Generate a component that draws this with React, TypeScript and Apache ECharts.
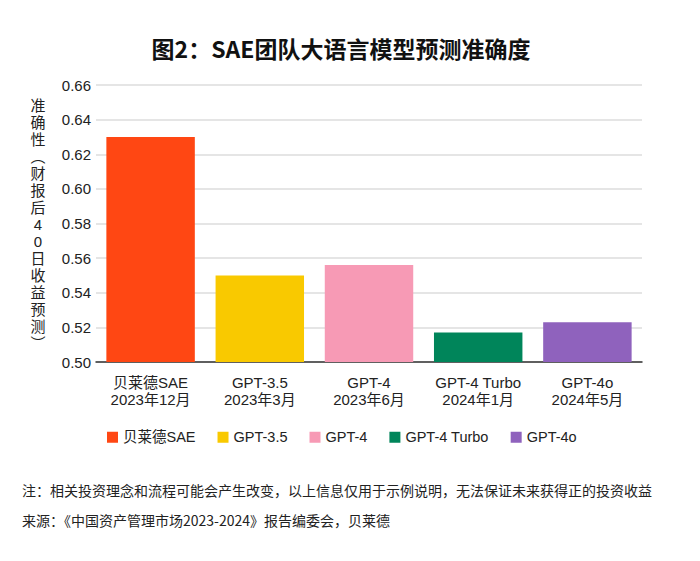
import React, { useEffect, useRef } from "react";
import * as echarts from "echarts";

const models = ["贝莱德SAE", "GPT-3.5", "GPT-4", "GPT-4 Turbo", "GPT-4o"];
const dates = ["2023年12月", "2023年3月", "2023年6月", "2024年1月", "2024年5月"];
const accuracy = [0.63, 0.55, 0.556, 0.517, 0.523];
const colors = ["#FF4713", "#F9C900", "#F79AB5", "#00855A", "#8F62BD"];
const yTicks = { min: 0.5, max: 0.66, interval: 0.02 };

const titleText = "图2：SAE团队大语言模型预测准确度";
const yAxisTitle = ["准", "确", "性", "︵", "财", "报", "后", "4", "0", "日", "收", "益", "预", "测", "︶"];
const note1 = "注：相关投资理念和流程可能会产生改变，以上信息仅用于示例说明，无法保证未来获得正的投资收益";
const note2 = "来源：《中国资产管理市场2023-2024》报告编委会，贝莱德";

const FONT = "'Liberation Sans', 'Noto Sans CJK SC', sans-serif";
const CJK = "'Noto Sans CJK SC', sans-serif";

export default function App() {
  const ref = useRef<HTMLDivElement>(null);
  useEffect(() => {
    if (!ref.current) return;
    const chart = echarts.init(ref.current, null, { renderer: "svg" });
    const categories = models.map((m, i) => `${m}\n${dates[i]}`);
    const series = models.map((m, i) => ({
      name: m,
      type: "bar" as const,
      stack: "all",
      barWidth: "81%",
      itemStyle: { color: colors[i] },
      data: accuracy.map((v, j) => (j === i ? v : "-")),
    }));
    chart.setOption({
      animation: false,
      textStyle: { fontFamily: FONT },
      grid: { left: 96, right: 58, top: 85, bottom: 199, containLabel: false },
      xAxis: {
        type: "category",
        data: categories,
        axisLine: { lineStyle: { color: "#333", width: 1.5 } },
        axisTick: { alignWithLabel: true, length: 5, lineStyle: { color: "#333", width: 1.2 } },
        axisLabel: { interval: 0, fontSize: 15, lineHeight: 17, color: "#222", margin: 12, fontFamily: FONT },
      },
      yAxis: {
        type: "value",
        min: yTicks.min,
        max: yTicks.max,
        interval: yTicks.interval,
        axisLine: { show: false },
        axisTick: { show: false },
        splitLine: { lineStyle: { color: "#dcdcdc", width: 1.5 } },
        axisLabel: {
          fontSize: 15,
          color: "#222",
          margin: 5,
          fontFamily: FONT,
          formatter: (v: number) => v.toFixed(2),
        },
      },
      legend: {
        data: models,
        left: 107,
        top: 430,
        padding: 0,
        icon: "rect",
        itemWidth: 11,
        itemHeight: 11,
        itemGap: 22,
        textStyle: { fontSize: 14.5, color: "#222", fontFamily: FONT },
      },
      graphic: [
        {
          type: "text",
          x: 341,
          y: 48,
          style: {
            text: titleText,
            fontSize: 23,
            fontWeight: "bold",
            fill: "#111",
            fontFamily: CJK,
            align: "center",
            verticalAlign: "middle",
          },
        },
        {
          type: "text",
          x: 38,
          y: 97,
          style: {
            text: yAxisTitle.join("\n"),
            fontSize: 15,
            lineHeight: 17,
            fill: "#222",
            fontFamily: FONT,
            align: "center",
            verticalAlign: "top",
          },
        },
        {
          type: "text",
          x: 22,
          y: 490,
          style: { text: note1, fontSize: 14, fill: "#222", fontFamily: CJK, align: "left", verticalAlign: "middle" },
        },
        {
          type: "text",
          x: 22,
          y: 520,
          style: { text: note2, fontSize: 14, fill: "#222", fontFamily: CJK, align: "left", verticalAlign: "middle" },
        },
      ],
      series,
    });
    return () => chart.dispose();
  }, []);
  return <div ref={ref} style={{ position: "fixed", left: 0, top: 0, width: 700, height: 561, background: "#fff" }} />;
}
